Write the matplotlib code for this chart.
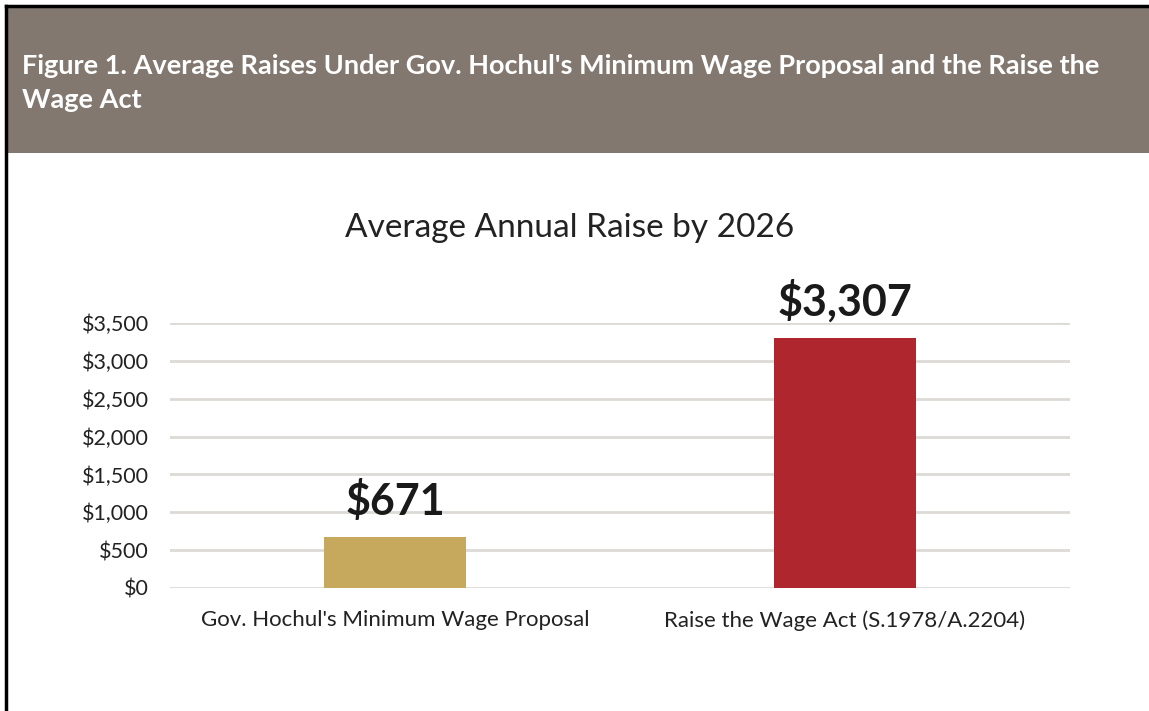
import matplotlib.pyplot as plt
from matplotlib.patches import Rectangle
from matplotlib.ticker import FuncFormatter

# ── data ────────────────────────────────────────────────────────────────
categories = ["Gov. Hochul's Minimum Wage Proposal",
              "Raise the Wage Act (S.1978/A.2204)"]
raises = [671, 3307]
bar_colors = ["#C7A95E", "#B0262F"]
y_ticks = [0, 500, 1000, 1500, 2000, 2500, 3000, 3500]

header = ("Figure 1. Average Raises Under Gov. Hochul's Minimum Wage Proposal and the Raise the\n"
          "Wage Act")
chart_title = "Average Annual Raise by 2026"

plt.rcParams["font.family"] = ["Lato", "DejaVu Sans"]

W, H = 1149, 711
fig = plt.figure(figsize=(W / 100, H / 100), dpi=100)
fig.patch.set_facecolor("white")

# header band + outer border (figure pixel coords)
def px(x, y):
    return x / W, 1 - y / H

fig.patches.append(Rectangle(px(7, 153), (W - 7) / W, 146 / H,
                             transform=fig.transFigure, facecolor="#827870",
                             edgecolor="none"))
fig.add_artist(plt.Line2D([6 / W, 6 / W], [0, 1 - 6 / H], color="black", lw=2.5,
                          transform=fig.transFigure))
fig.add_artist(plt.Line2D([6 / W, 1], [1 - 6 / H, 1 - 6 / H], color="black", lw=2.5,
                          transform=fig.transFigure))
fig.text(*px(22, 83), header, color="white", fontsize=19.5, fontweight="bold",
         ha="left", va="center", linespacing=1.45)

fig.text(*px(570, 228), chart_title, color="#222222", fontsize=24,
         ha="center", va="center")

ax = fig.add_axes([170 / W, 1 - 588 / H, 900 / W, 265 / H])
xs = range(len(categories))
bars = ax.bar(xs, raises, width=0.315, color=bar_colors, zorder=3)
for b, v in zip(bars, raises):
    ax.text(b.get_x() + b.get_width() / 2, v + 200, f"${v:,}",
            ha="center", va="bottom", fontsize=31, fontweight="bold",
            color="#1a1a1a", clip_on=False)

ax.set_xlim(-0.5, 1.5)
ax.set_ylim(0, 3500)
ax.set_yticks(y_ticks)
ax.yaxis.set_major_formatter(FuncFormatter(lambda v, _: f"${v:,.0f}"))
ax.set_xticks(list(xs))
ax.set_xticklabels(categories, fontsize=16)
ax.tick_params(axis="both", length=0, colors="#222222")
ax.tick_params(axis="y", pad=15, labelsize=15.5)
ax.tick_params(axis="x", pad=16)
ax.grid(axis="y", color="#DDDAD6", lw=2, zorder=0)
for s in ax.spines.values():
    s.set_visible(False)

fig.savefig("out.png", dpi=100)
